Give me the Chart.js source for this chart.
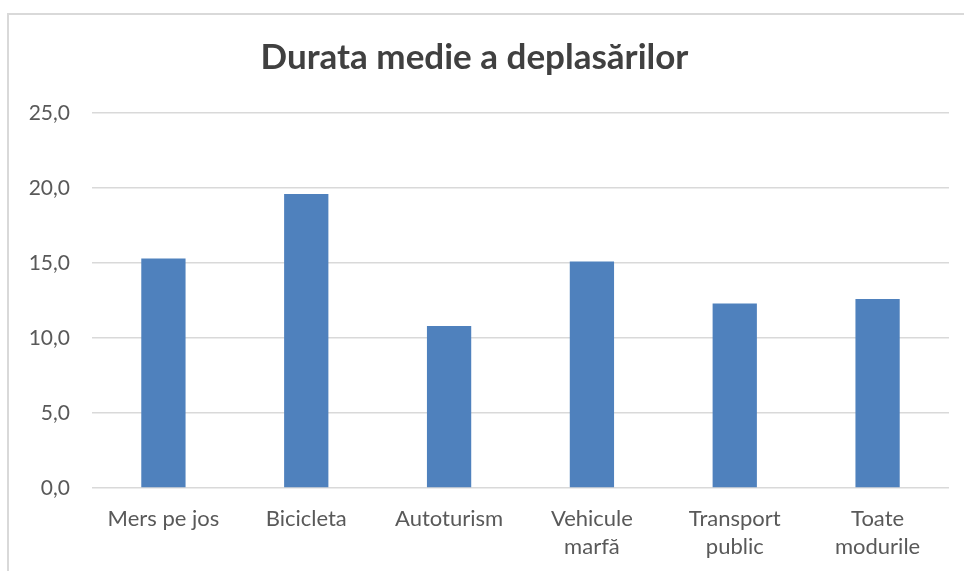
<!DOCTYPE html>
<html>
<head>
<meta charset="utf-8">
<script src="https://cdn.jsdelivr.net/npm/chart.js@4"></script>
<style>
  html, body { margin: 0; padding: 0; background: #fff; }
  #wrap { position: relative; width: 964px; height: 571px; overflow: hidden; }
  #frame {
    position: absolute; left: 7px; top: 13px; width: 1000px; height: 600px;
    border-left: 2px solid #d9d9d9; border-top: 2px solid #d9d9d9;
  }
  canvas { position: absolute; left: 0; top: 0; }
</style>
</head>
<body>
<div id="wrap">
  <div id="frame"></div>
  <canvas id="chart" width="964" height="571"></canvas>
</div>
<script>
// chart data
const categories = ["Mers pe jos", "Bicicleta", "Autoturism", ["Vehicule", "marfă"], ["Transport", "public"], ["Toate", "modurile"]];
const durations = [15.3, 19.6, 10.8, 15.1, 12.3, 12.6];
const yTicks = [0, 5, 10, 15, 20, 25];

const FONT = "Lato, 'Open Sans', sans-serif";

new Chart(document.getElementById("chart"), {
    type: "bar",
    data: {
        labels: categories,
        datasets: [{
            label: "Durata medie",
            data: durations,
            backgroundColor: "#4f81bd",
            barPercentage: 0.31,
            categoryPercentage: 1
        }]
    },
    options: {
        responsive: false,
        animation: false,
        layout: { padding: { left: 0, right: 15, top: 0, bottom: 0 } },
        plugins: {
            legend: { display: false },
            tooltip: { enabled: false },
            title: {
                display: true,
                text: "Durata medie a deplasărilor",
                color: "#404040",
                font: { family: FONT, size: 35, weight: "bold" },
                padding: { top: 37, bottom: 34 }
            }
        },
        scales: {
            x: {
                grid: { display: false },
                border: { display: false },
                ticks: {
                    color: "#595959",
                    font: { family: FONT, size: 22, lineHeight: 1.28 },
                    padding: 9,
                    maxRotation: 0,
                    autoSkip: false
                },
                afterFit: scale => { scale.height = 83; }
            },
            y: {
                min: 0,
                max: 25,
                afterBuildTicks: scale => { scale.ticks = yTicks.map(v => ({ value: v })); },
                grid: { color: "#d9d9d9", lineWidth: 1.6, drawTicks: false },
                border: { display: false },
                ticks: {
                    color: "#595959",
                    font: { family: FONT, size: 21 },
                    padding: 22,
                    callback: v => v.toFixed(1).replace(".", ",")
                },
                afterFit: scale => { scale.width = 92; }
            }
        }
    }
});
</script>
</body>
</html>
